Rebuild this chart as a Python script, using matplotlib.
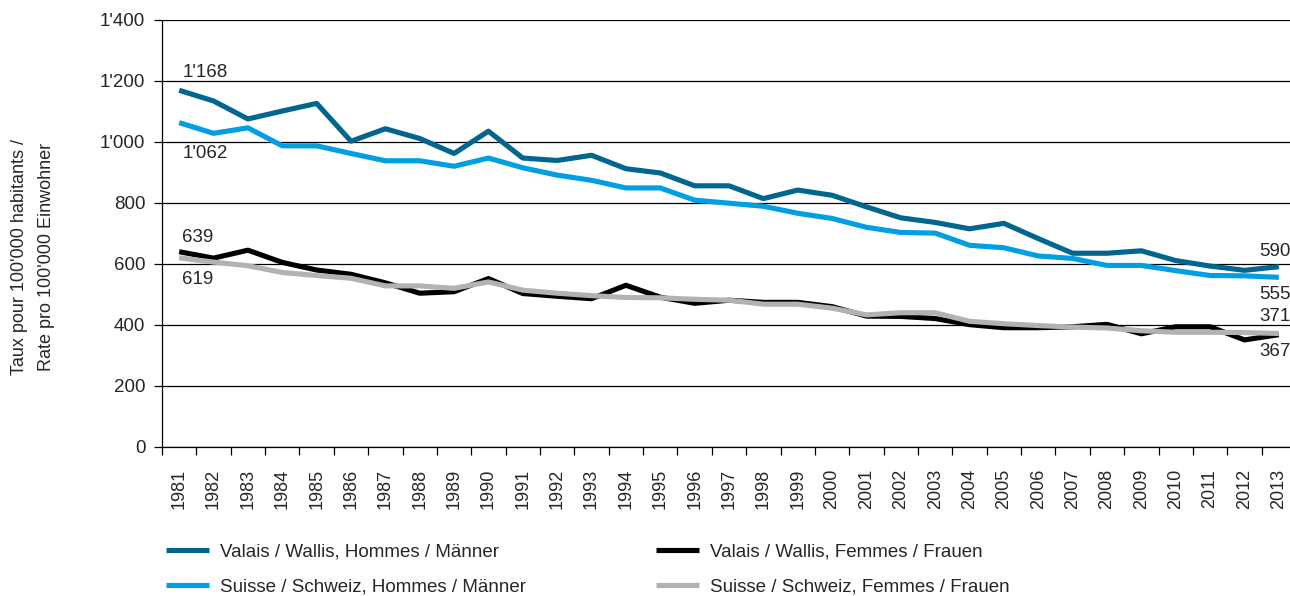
import matplotlib
matplotlib.use("Agg")
import matplotlib.pyplot as plt
from matplotlib.ticker import FuncFormatter, FixedLocator

# -----------------------------
# data
# -----------------------------
years = list(range(1981, 2014))

valais_men = [1168, 1133, 1074, 1100, 1125, 1001, 1042, 1010, 961, 1034,
              946, 938, 955, 911, 897, 855, 855, 813, 841, 824,
              786, 750, 735, 714, 732, 682, 634, 634, 642, 610,
              592, 578, 590]
suisse_men = [1062, 1027, 1045, 986, 986, 961, 937, 937, 919, 946,
              914, 890, 873, 848, 848, 808, 798, 788, 765, 748,
              719, 702, 700, 660, 652, 625, 617, 594, 594, 577,
              561, 560, 555]
valais_women = [639, 618, 644, 604, 579, 565, 537, 503, 508, 551,
                502, 493, 485, 529, 490, 470, 480, 473, 473, 459,
                428, 427, 420, 400, 390, 390, 393, 401, 370, 393,
                393, 350, 367]
suisse_women = [619, 605, 593, 571, 561, 552, 527, 527, 519, 540,
                513, 503, 495, 489, 488, 483, 480, 467, 467, 454,
                432, 439, 439, 411, 403, 397, 392, 389, 380, 375,
                375, 374, 371]

labels = ["Valais / Wallis, Hommes / Männer",
          "Suisse / Schweiz, Hommes / Männer",
          "Valais / Wallis, Femmes / Frauen",
          "Suisse / Schweiz, Femmes / Frauen"]
colors = ["#00668f", "#009fe3", "#000000", "#b2b2b2"]

ylabel = "Taux pour 100'000 habitants /\nRate pro 100'000 Einwohner"

TXT = "#262626"
plt.rcParams["font.family"] = ["Liberation Sans", "DejaVu Sans"]


def swiss(v, _pos=None):
    # 1'400 style thousands separator
    return f"{int(v):,}".replace(",", "'")


fig = plt.figure(figsize=(12.9, 5.96), dpi=100)
ax = fig.add_axes([162 / 1290, 1 - 446.7 / 596, 1134 / 1290, 427.2 / 596])

x = list(range(len(years)))
series = [valais_men, suisse_men, valais_women, suisse_women]
handles = []
for ys, col, lab in zip(series, colors, labels):
    h, = ax.plot(x, ys, color=col, lw=3.7, label=lab, zorder=3,
                 solid_capstyle="butt", solid_joinstyle="round")
    handles.append(h)

ax.set_xlim(-0.5, len(years) - 0.5)
ax.set_ylim(0, 1400)

# y axis
ax.set_yticks(range(0, 1401, 200))
ax.yaxis.set_major_formatter(FuncFormatter(swiss))
ax.tick_params(axis="y", direction="out", length=6, width=0.9, color="black",
               pad=6, labelsize=13.5, labelcolor=TXT)
ax.grid(axis="y", color="black", lw=0.9, zorder=1)
ax.set_axisbelow(True)

# x axis: tick marks between categories, labels centred
ax.xaxis.set_major_locator(FixedLocator([i - 0.5 for i in range(len(years) + 1)]))
ax.xaxis.set_minor_locator(FixedLocator(x))
ax.set_xticklabels([])
ax.set_xticklabels([str(y) for y in years], minor=True, rotation=90)
ax.tick_params(axis="x", which="major", direction="out", length=6, width=0.9, color="black")
ax.tick_params(axis="x", which="minor", length=0, pad=16, labelsize=13, labelcolor=TXT)

for s in ["top", "right"]:
    ax.spines[s].set_visible(False)
for s in ["left", "bottom"]:
    ax.spines[s].set_color("black")
    ax.spines[s].set_linewidth(0.9)

# value labels at first and last year
last = len(years) - 1
notes = [
    (0, valais_men[0], 3, 18, "left"),
    (0, suisse_men[0], 3, -31, "left"),
    (0, valais_women[0], 3, 14, "left"),
    (0, suisse_women[0], 3, -22, "left"),
    (last, valais_men[-1], -4, 15, "center"),
    (last, suisse_men[-1], -4, -17, "center"),
    (last, suisse_women[-1], -4, 17, "center"),
    (last, valais_women[-1], -4, -17, "center"),
]
for xi, v, dx, dy, ha in notes:
    ax.annotate(swiss(v), (xi, v), xytext=(dx, dy), textcoords="offset pixels",
                ha=ha, va="center", fontsize=13.5, color=TXT, zorder=4)

fig.text(33 / 1290, 1 - 257 / 596, ylabel, rotation=90, ha="center", va="center",
         multialignment="center", fontsize=13, color=TXT, linespacing=1.8)

fig.legend(handles, labels, ncol=2, frameon=False,
           loc="upper left", bbox_to_anchor=(166 / 1290, 1 - 543 / 596),
           borderpad=0, borderaxespad=0, handlelength=2.3, handletextpad=0.6,
           columnspacing=6.9, labelspacing=1.0, fontsize=13.5, labelcolor=TXT)

fig.savefig("out.png", dpi=100)
